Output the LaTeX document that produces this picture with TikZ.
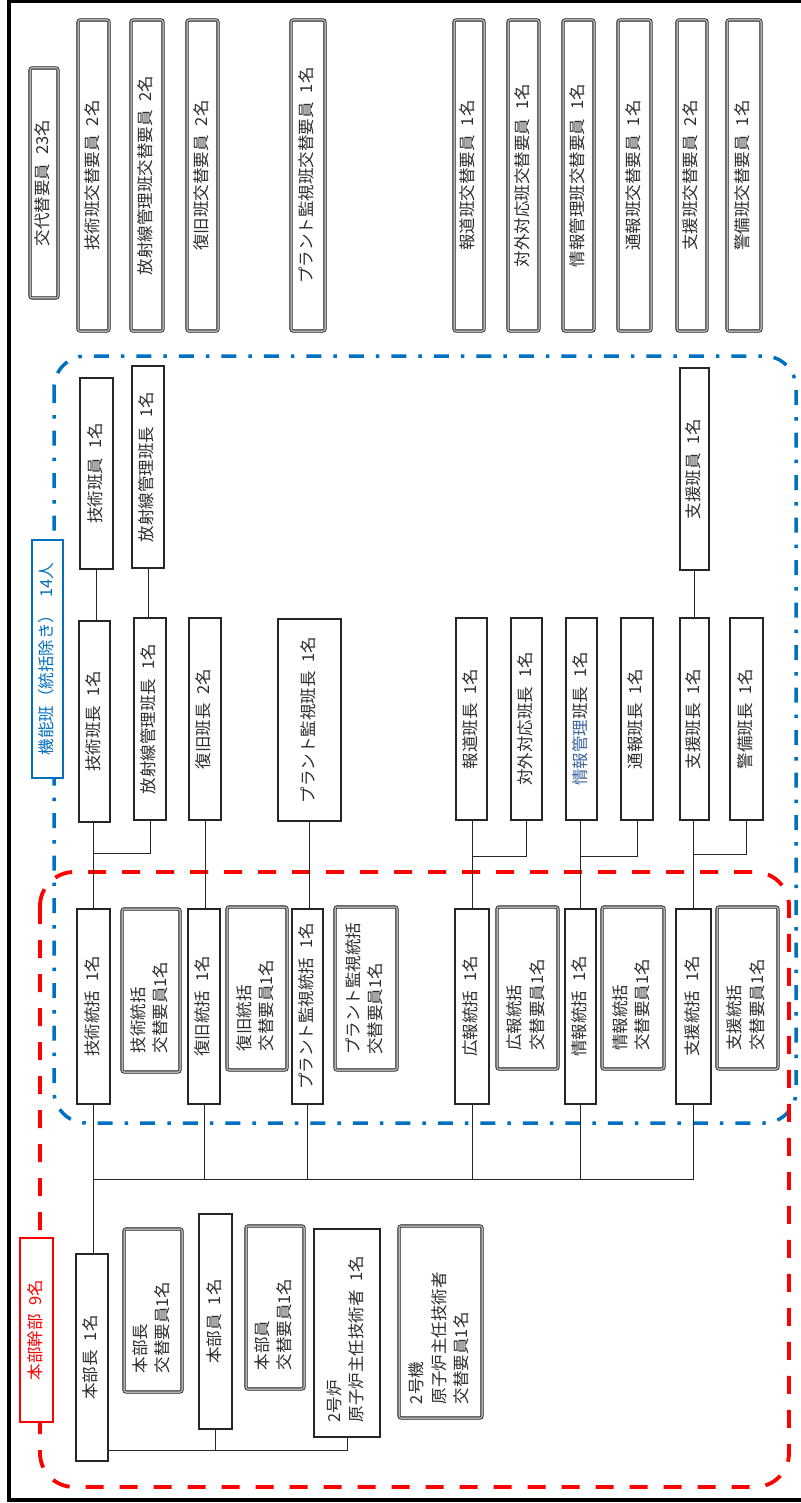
\documentclass[tikz,border=0pt]{standalone}
\usepackage{fontspec}
\setmainfont{Noto Sans CJK JP}
\usepackage{graphicx}
\definecolor{fblue}{RGB}{0,112,192}
\definecolor{fred}{RGB}{255,0,0}
\definecolor{txt}{RGB}{45,45,45}
\definecolor{tblue}{RGB}{60,100,160}
\newcommand\kgap{\hspace{0.55em}}
% name, x1, y1, x2, y2, style, text shift, text
\newcommand\bx[8]{\node[#6, minimum width={#4-#2}, minimum height={#5-#3}] (#1) at ({(#2+#4)/2},{(#3+#5)/2}) {\rotatebox{90}{\begin{tabular}{@{}l@{}}#8\end{tabular}\hspace*{#7}}};}
\begin{document}
\begin{tikzpicture}[x=1pt,y=-1pt,
  sbox/.style={draw=black!85, line width=1.1pt, fill=white, inner sep=0pt, outer sep=0pt, text=txt, font=\fontsize{16.5}{22.5}\selectfont},
  dbox/.style={sbox, draw=black!90, line width=0.8pt, double=black!30, double distance=1.5pt, rounded corners=2pt},
  lbl/.style={fill=white, line width=1.2pt, inner sep=0pt, outer sep=0pt, font=\fontsize{16.5}{22.5}\selectfont},
  con/.style={draw=black!85, line width=0.9pt},
  bluefr/.style={draw=fblue, line width=3.5pt, dash pattern=on 15pt off 12pt on 3.5pt off 12pt, rounded corners=32pt},
  redfr/.style={draw=fred, line width=3.8pt, dash pattern=on 18pt off 16pt, rounded corners=34pt}]
\useasboundingbox (0,0) rectangle (800,1503);
\fill[white] (0,0) rectangle (800,1503);
% outer frame
\draw[line width=4pt] (8.5,1.5) rectangle (803,1500);
% group frames
\draw[bluefr] (54,356) rectangle (796,1123);
\draw[redfr] (40,872) rectangle (789,1487);

% top row: replacement staff
\bx{r0}{30}{68}{58}{298}{dbox}{0pt}{交代替要員\kgap 23名}
\bx{r1}{78}{20}{109}{331}{dbox}{0pt}{技術班交替要員\kgap 2名}
\bx{r2}{131}{20}{163}{331}{dbox}{0pt}{放射線管理班交替要員\kgap 2名}
\bx{r3}{187}{20}{218}{331}{dbox}{0pt}{復旧班交替要員\kgap 2名}
\bx{r4}{291}{20}{325}{331}{dbox}{0pt}{プラント監視班交替要員\kgap 1名}
\bx{r5}{454}{20}{484}{331}{dbox}{0pt}{報道班交替要員\kgap 1名}
\bx{r6}{508}{20}{539}{331}{dbox}{0pt}{対外対応班交替要員\kgap 1名}
\bx{r7}{563}{20}{594}{331}{dbox}{0pt}{情報管理班交替要員\kgap 1名}
\bx{r8}{618}{20}{651}{331}{dbox}{0pt}{通報班交替要員\kgap 1名}
\bx{r9}{677}{20}{707}{331}{dbox}{0pt}{支援班交替要員\kgap 2名}
\bx{r10}{727}{20}{761}{331}{dbox}{0pt}{警備班交替要員\kgap 1名}

% labels
\bx{lblue}{32}{540}{63}{778}{lbl, draw=fblue, text=fblue}{0pt}{機能班（統括除き）\kgap 14人}
\bx{lred}{20}{1238}{53}{1422}{lbl, draw=fred, text=fred}{0pt}{本部幹部\kgap 9名}

% team members
\bx{m1}{80}{378}{113}{569}{sbox}{0pt}{技術班員\kgap 1名}
\bx{m2}{132}{366}{164}{568}{sbox}{0pt}{放射線管理班長\kgap 1名}
\bx{m3}{680}{368}{709}{570}{sbox}{0pt}{支援班員\kgap 1名}

% team leaders
\bx{c1}{79}{621}{110}{822}{sbox}{0pt}{技術班長\kgap 1名}
\bx{c2}{134}{618}{166}{820}{sbox}{0pt}{放射線管理班長\kgap 1名}
\bx{c3}{189}{618}{221}{820}{sbox}{0pt}{復旧班長\kgap 2名}
\bx{c4}{278}{619}{341}{821}{sbox}{0pt}{プラント監視班長\kgap 1名}
\bx{c5}{456}{618}{487}{820}{sbox}{0pt}{報道班長\kgap 1名}
\bx{c6}{511}{618}{542}{820}{sbox}{0pt}{対外対応班長\kgap 1名}
\bx{c7}{566}{618}{597}{820}{sbox}{0pt}{\textcolor{tblue}{情報管理}班長\kgap 1名}
\bx{c8}{621}{618}{653}{820}{sbox}{0pt}{通報班長\kgap 1名}
\bx{c9}{680}{618}{709}{820}{sbox}{0pt}{支援班長\kgap 1名}
\bx{c10}{730}{618}{763}{820}{sbox}{0pt}{警備班長\kgap 1名}

% supervisors
\bx{s1}{77}{909}{110}{1104}{sbox}{0pt}{技術統括\kgap 1名}
\bx{s1r}{122}{909}{180}{1072}{dbox}{34pt}{技術統括\\交替要員1名}
\bx{s2}{188}{909}{220}{1104}{sbox}{0pt}{復旧統括\kgap 1名}
\bx{s2r}{227}{907}{287}{1070}{dbox}{34pt}{復旧統括\\交替要員1名}
\bx{s3}{292}{909}{323}{1104}{sbox}{0pt}{プラント監視統括\kgap 1名}
\bx{s3r}{335}{907}{397}{1070}{dbox}{0pt}{プラント監視統括\\交替要員1名}
\bx{s4}{455}{909}{489}{1104}{sbox}{0pt}{広報統括\kgap 1名}
\bx{s4r}{497}{907}{558}{1069}{dbox}{34pt}{広報統括\\交替要員1名}
\bx{s5}{565}{909}{596}{1104}{sbox}{0pt}{情報統括\kgap 1名}
\bx{s5r}{602}{907}{664}{1069}{dbox}{34pt}{情報統括\\交替要員1名}
\bx{s6}{676}{909}{711}{1104}{sbox}{0pt}{支援統括\kgap 1名}
\bx{s6r}{717}{907}{778}{1069}{dbox}{34pt}{支援統括\\交替要員1名}

% headquarters
\bx{b1}{76}{1254}{108}{1461}{sbox}{0pt}{本部長\kgap 1名}
\bx{b1r}{124}{1229}{182}{1392}{dbox}{34pt}{本部長\\交替要員1名}
\bx{b2}{199}{1214}{232}{1429}{sbox}{0pt}{本部員\kgap 1名}
\bx{b2r}{246}{1226}{304}{1389}{dbox}{34pt}{本部員\\交替要員1名}
\bx{b3}{314}{1229}{380}{1437}{sbox}{12pt}{2号炉\\原子炉主任技術者\kgap 1名}
\bx{b3r}{399}{1226}{482}{1418}{dbox}{32pt}{2号機\\原子炉主任技術者\\交替要員1名}

% connectors: members to leaders
\draw[con] (m1.south) -- (m1.south |- c1.north);
\draw[con] (m2.south) -- (m2.south |- c2.north);
\draw[con] (m3.south) -- (m3.south |- c9.north);
% leaders to supervisors
\draw[con] (s1.north) -- (s1.north |- c1.south);
\draw[con] (c2.south) -- ++(0,33) -| (s1.north);
\draw[con] (c3.south) -- (c3.south |- s2.north);
\draw[con] (c4.south) -- (c4.south |- s3.north);
\draw[con] (s4.north) -- (s4.north |- c5.south);
\draw[con] (c6.south) -- ++(0,36) -| (s4.north);
\draw[con] (s5.north) -- (s5.north |- c7.south);
\draw[con] (c8.south) -- ++(0,36) -| (s5.north);
\draw[con] (s6.north) -- (s6.north |- c9.south);
\draw[con] (c10.south) -- ++(0,34) -| (s6.north);
% supervisors to headquarters bus
\draw[con] (s1.south) -- (s1.south |- b1.north);
\draw[con] (s6.south) -- ++(0,75) -| (s1.south);
\draw[con] (s2.south) -- ++(0,75);
\draw[con] (s3.south) -- ++(0,75);
\draw[con] (s4.south) -- ++(0,75);
\draw[con] (s5.south) -- ++(0,75);
% headquarters bottom link
\draw[con] (b3.south) -- ++(0,13) -| (b1.east);
\draw[con] (b2.south) -- ++(0,21);
\end{tikzpicture}
\end{document}
